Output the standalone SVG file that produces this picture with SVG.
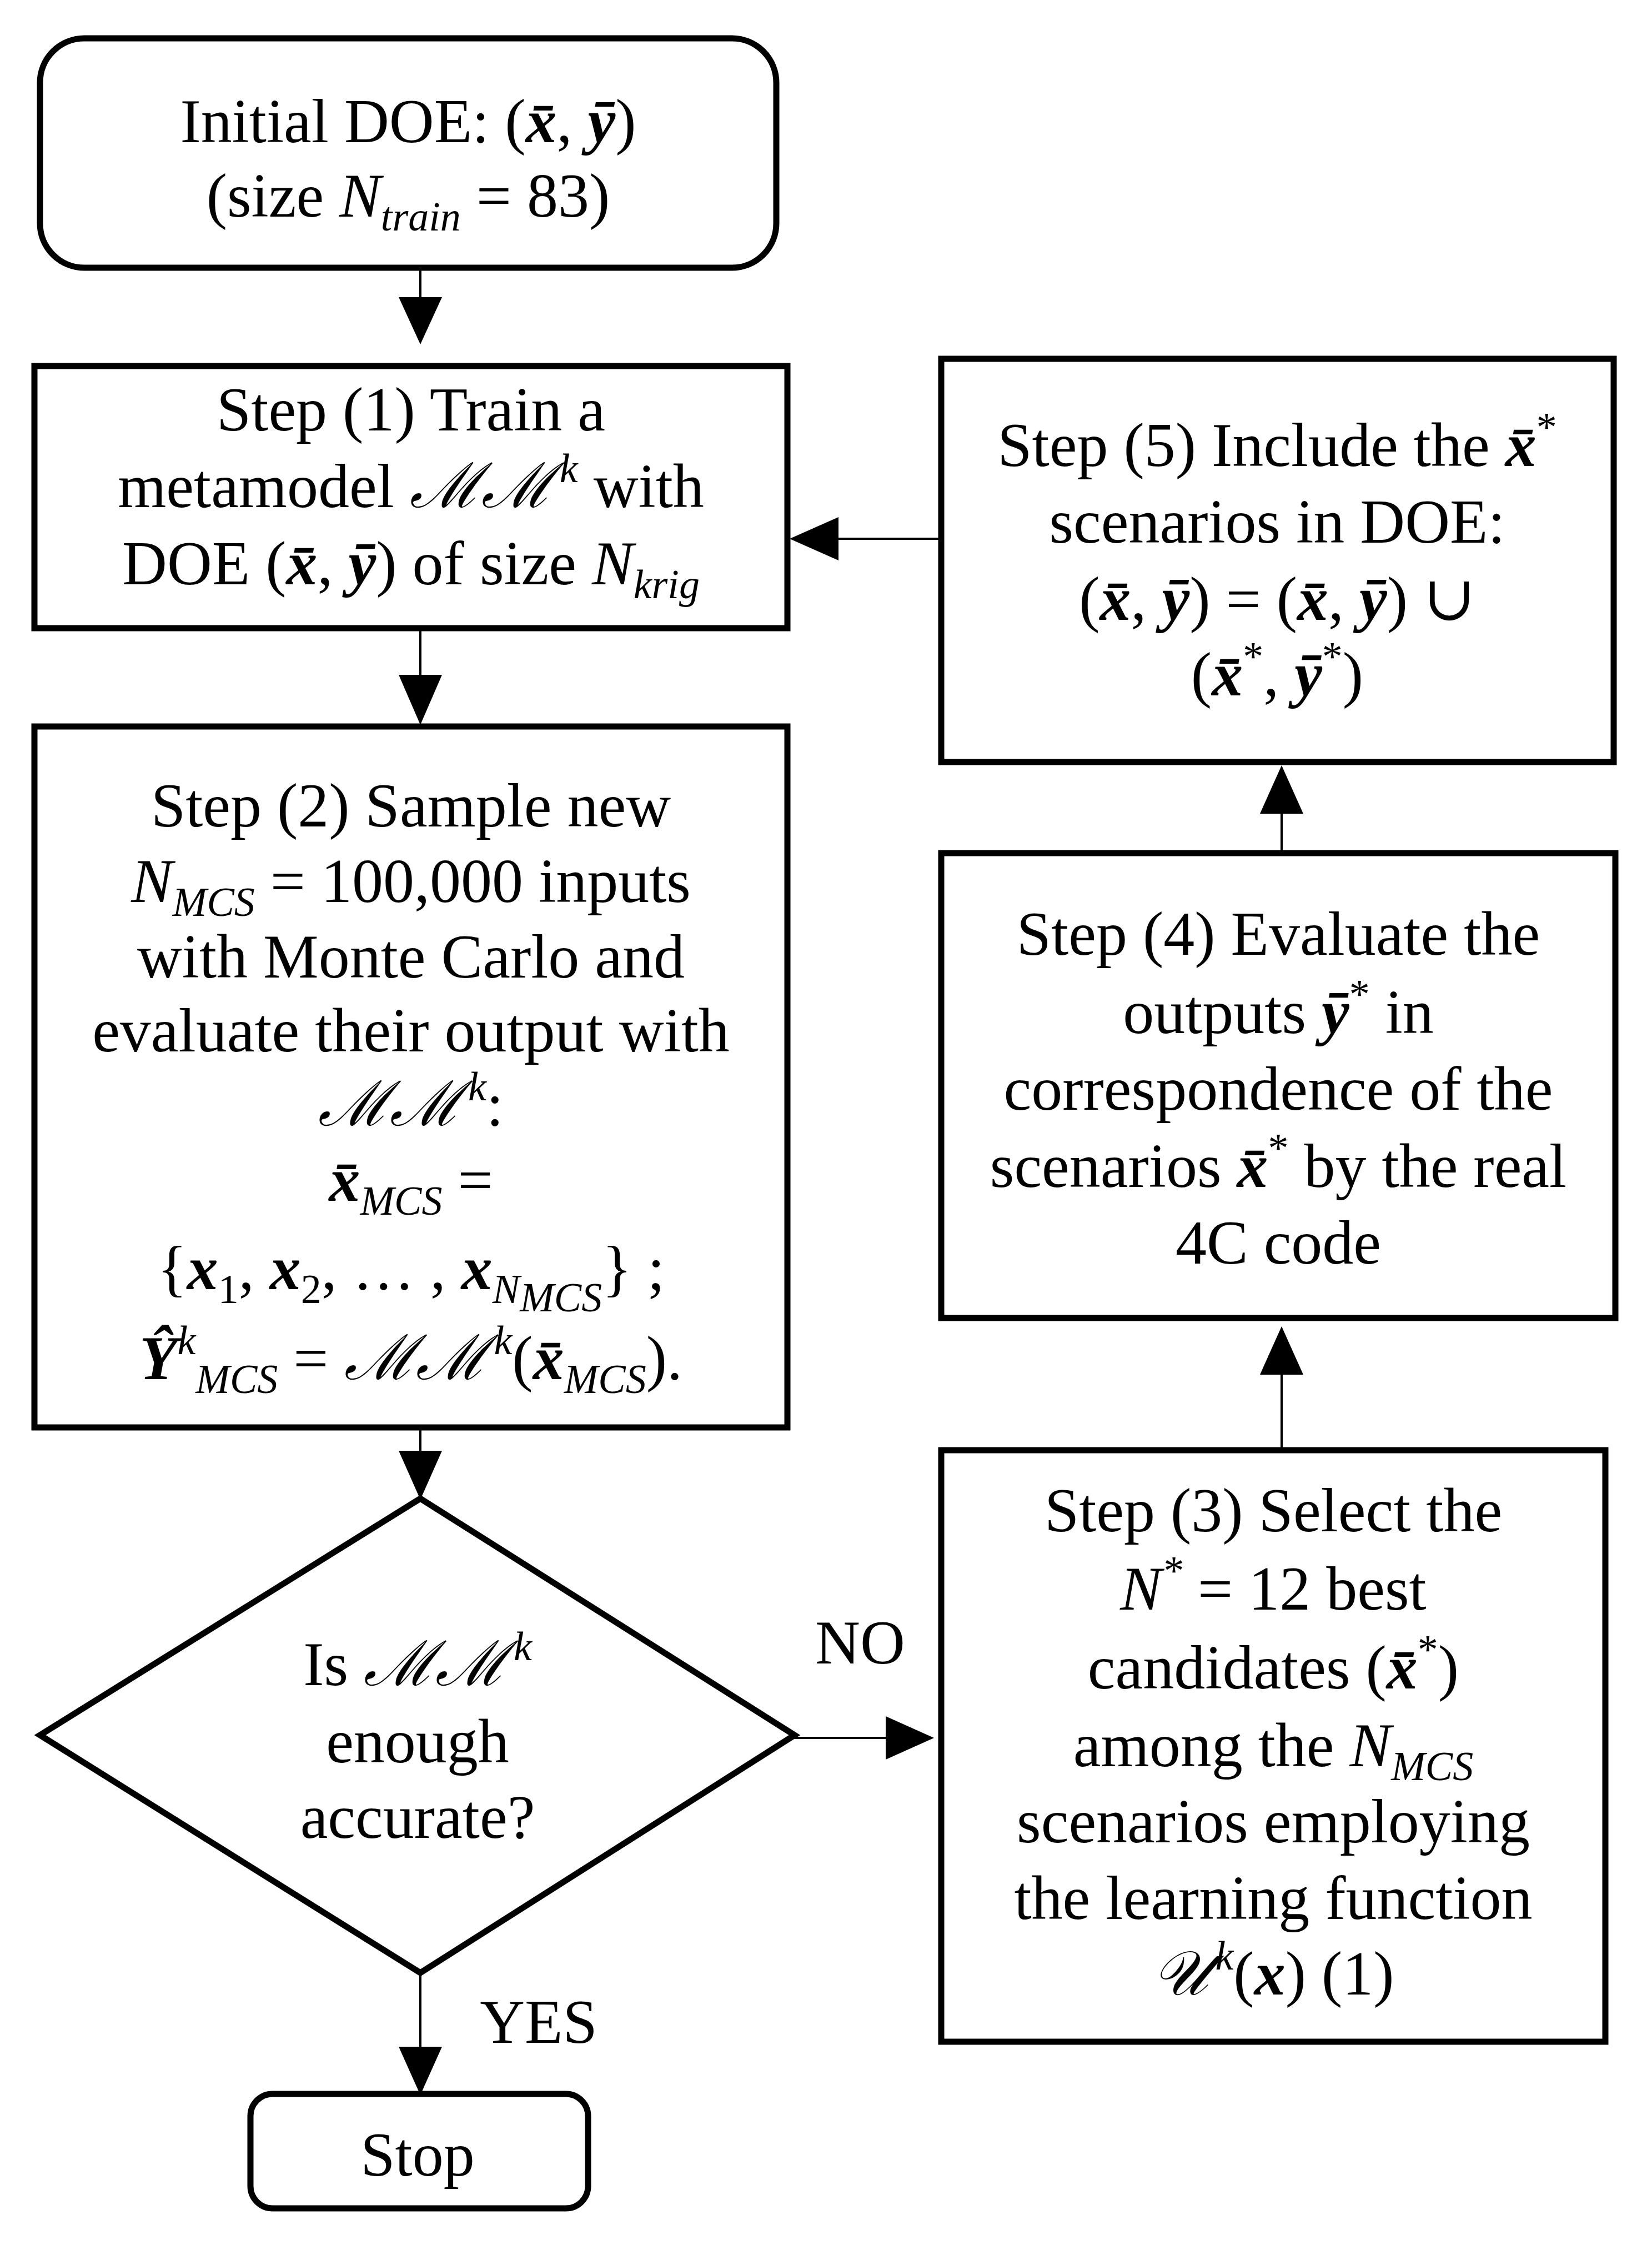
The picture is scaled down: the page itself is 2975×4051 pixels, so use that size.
<svg xmlns="http://www.w3.org/2000/svg" width="2975" height="4051" viewBox="0 0 2975 4051">
<defs>
<style>
.bx{fill:#fff;stroke:#000;stroke-width:11}
.cn{stroke:#000;stroke-width:4;fill:none}
.ar{fill:#000}
text{font-family:"Liberation Serif","DejaVu Serif",serif;font-size:112px;fill:#000;text-anchor:middle}
.i{font-style:italic}
.b{font-style:italic;font-weight:bold}
.s{font-size:74px;font-style:italic}
</style>
</defs>
<rect width="2975" height="4051" fill="#fff"/>
<g id="connectors">
<line class="cn" x1="757" y1="482" x2="757" y2="540"/><path class="ar" d="M718,535 L796,535 L757,620 Z"/>
<line class="cn" x1="757" y1="1131" x2="757" y2="1220"/><path class="ar" d="M718,1215 L796,1215 L757,1305 Z"/>
<line class="cn" x1="757" y1="2570" x2="757" y2="2615"/><path class="ar" d="M718,2612 L796,2612 L757,2700 Z"/>
<line class="cn" x1="757" y1="3552" x2="757" y2="3690"/><path class="ar" d="M718,3685 L796,3685 L757,3772 Z"/>
<line class="cn" x1="1431" y1="3129" x2="1600" y2="3129"/><path class="ar" d="M1595,3090 L1595,3168 L1682,3129 Z"/>
<line class="cn" x1="2308" y1="2611" x2="2308" y2="2470"/><path class="ar" d="M2269,2475 L2347,2475 L2308,2388 Z"/>
<line class="cn" x1="2308" y1="1536" x2="2308" y2="1460"/><path class="ar" d="M2269,1465 L2347,1465 L2308,1378 Z"/>
<line class="cn" x1="1695" y1="970" x2="1505" y2="970"/><path class="ar" d="M1510,931 L1510,1009 L1422,970 Z"/>
<text x="1549" y="2995">NO</text>
<text x="970" y="3678">YES</text>
</g>
<g id="init">
<rect class="bx" x="72" y="69" width="1326" height="413" rx="80"/>
<text x="735" y="256">Initial DOE: (<tspan class="b">x̄</tspan>, <tspan class="b">ȳ</tspan>)</text>
<text x="735" y="390">(size <tspan class="i">N</tspan><tspan class="s" dy="25">train</tspan><tspan dy="-25"> = 83)</tspan></text>
</g>
<g id="step1">
<rect class="bx" x="62" y="659" width="1356" height="472"/>
<text x="740" y="775">Step (1) Train a</text>
<text x="740" y="913">metamodel <tspan class="i">ℳℳ</tspan><tspan class="s" dx="12" dy="-45">k</tspan><tspan dy="45"> with</tspan></text>
<text x="740" y="1052">DOE (<tspan class="b">x̄</tspan>, <tspan class="b">ȳ</tspan>) of size <tspan class="i">N</tspan><tspan class="s" dy="25">krig</tspan></text>
</g>
<g id="step2">
<rect class="bx" x="62" y="1308" width="1356" height="1262"/>
<text x="740" y="1488">Step (2) Sample new</text>
<text x="740" y="1624"><tspan class="i">N</tspan><tspan class="s" dy="25">MCS</tspan><tspan dy="-25"> = 100,000 inputs</tspan></text>
<text x="740" y="1760">with Monte Carlo and</text>
<text x="740" y="1893">evaluate their output with</text>
<text x="740" y="2026"><tspan class="i">ℳℳ</tspan><tspan class="s" dx="12" dy="-45">k</tspan><tspan dy="45">:</tspan></text>
<text x="740" y="2162"><tspan class="b">x̄</tspan><tspan class="s" dy="25">MCS</tspan><tspan dy="-25"> =</tspan></text>
<text x="740" y="2321">{<tspan class="b">x</tspan><tspan font-size="74" dy="25">1</tspan><tspan dy="-25">, </tspan><tspan class="b">x</tspan><tspan font-size="74" dy="25">2</tspan><tspan dy="-25">, … , </tspan><tspan class="b">x</tspan><tspan class="s" dy="25">N</tspan><tspan class="s" font-size="52" dy="15">MCS</tspan><tspan dy="-40">} ;</tspan></text>
<text x="740" y="2483"><tspan class="b">Ŷ</tspan><tspan class="s" dy="-45">k</tspan><tspan class="s" dy="70">MCS</tspan><tspan dy="-25"> = </tspan><tspan class="i">ℳℳ</tspan><tspan class="s" dx="12" dy="-45">k</tspan><tspan dy="45">(</tspan><tspan class="b">x̄</tspan><tspan class="s" dy="25">MCS</tspan><tspan dy="-25">).</tspan></text>
</g>
<g id="decision">
<path class="bx" d="M757,2698 L1431,3124 L757,3552 L72,3124 Z"/>
<text x="752" y="3034">Is <tspan class="i">ℳℳ</tspan><tspan class="s" dx="12" dy="-45">k</tspan></text>
<text x="752" y="3173">enough</text>
<text x="752" y="3309">accurate?</text>
</g>
<g id="stop">
<rect class="bx" x="451" y="3770" width="608" height="206" rx="40"/>
<text x="752" y="3917">Stop</text>
</g>
<g id="step3">
<rect class="bx" x="1695" y="2611" width="1196" height="1065"/>
<text x="2293" y="2757">Step (3) Select the</text>
<text x="2293" y="2898"><tspan class="i">N</tspan><tspan class="s" dy="-45">*</tspan><tspan dy="45"> = 12 best</tspan></text>
<text x="2293" y="3040">candidates (<tspan class="b">x̄</tspan><tspan font-size="74" dy="-45">*</tspan><tspan dy="45">)</tspan></text>
<text x="2293" y="3180">among the <tspan class="i">N</tspan><tspan class="s" dy="25">MCS</tspan></text>
<text x="2293" y="3317">scenarios employing</text>
<text x="2293" y="3455">the learning function</text>
<text x="2293" y="3591"><tspan class="i">𝒰</tspan><tspan class="s" dx="12" dy="-45">k</tspan><tspan dy="45">(</tspan><tspan class="b">x</tspan>) (1)</text>
</g>
<g id="step4">
<rect class="bx" x="1695" y="1536" width="1214" height="837"/>
<text x="2302" y="1719">Step (4) Evaluate the</text>
<text x="2302" y="1860">outputs <tspan class="b">ȳ</tspan><tspan font-size="74" dy="-45">*</tspan><tspan dy="45"> in</tspan></text>
<text x="2302" y="1998">correspondence of the</text>
<text x="2302" y="2137">scenarios <tspan class="b">x̄</tspan><tspan font-size="74" dy="-45">*</tspan><tspan dy="45"> by the real</tspan></text>
<text x="2302" y="2275">4C code</text>
</g>
<g id="step5">
<rect class="bx" x="1695" y="646" width="1211" height="726"/>
<text x="2300" y="839">Step (5) Include the <tspan class="b">x̄</tspan><tspan font-size="74" dy="-45">*</tspan></text>
<text x="2300" y="977">scenarios in DOE:</text>
<text x="2300" y="1116">(<tspan class="b">x̄</tspan>, <tspan class="b">ȳ</tspan>) = (<tspan class="b">x̄</tspan>, <tspan class="b">ȳ</tspan>) ∪</text>
<text x="2300" y="1252">(<tspan class="b">x̄</tspan><tspan font-size="74" dy="-45">*</tspan><tspan dy="45">, </tspan><tspan class="b">ȳ</tspan><tspan font-size="74" dy="-45">*</tspan><tspan dy="45">)</tspan></text>
</g>
</svg>
